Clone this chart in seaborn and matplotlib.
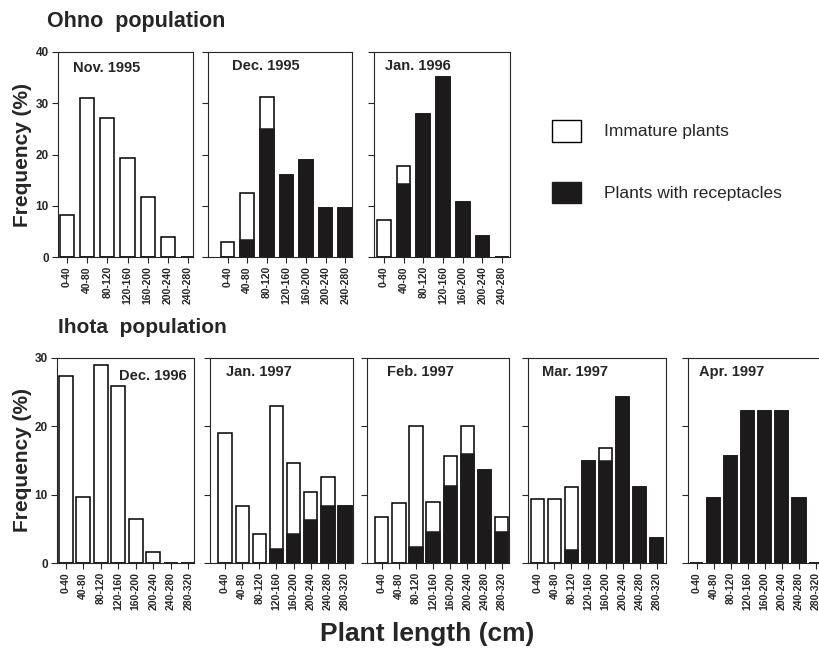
import matplotlib
matplotlib.use("Agg")
import matplotlib.pyplot as plt
from matplotlib.patches import Patch
import seaborn as sns


# length classes (cm)
ohno_bins = ["0-40", "40-80", "80-120", "120-160", "160-200", "200-240", "240-280"]
ihota_bins = ["0-40", "40-80", "80-120", "120-160", "160-200", "200-240", "240-280", "280-320"]

ohno_months = ["Nov. 1995", "Dec. 1995", "Jan. 1996"]
ihota_months = ["Dec. 1996", "Jan. 1997", "Feb. 1997", "Mar. 1997", "Apr. 1997"]

# frequency (%) of immature plants / plants with receptacles
ohno_immature = [
    [8.1, 31.0, 27.2, 19.4, 11.8, 4.0, 0],
    [3.0, 9.0, 6.2, 0, 0, 0, 0],
    [7.2, 3.4, 0, 0, 0, 0, 0],
]
ohno_receptacles = [
    [0, 0, 0, 0, 0, 0, 0],
    [0, 3.4, 25.0, 16.0, 19.0, 9.5, 9.5],
    [0, 14.3, 28.0, 35.2, 10.8, 4.1, 0],
]
ihota_immature = [
    [27.4, 9.7, 29.0, 25.9, 6.5, 1.6, 0, 0],
    [19.0, 8.3, 4.2, 20.9, 10.3, 4.1, 4.3, 0],
    [6.7, 8.8, 17.7, 4.4, 4.4, 4.1, 0, 2.2],
    [9.3, 9.3, 9.2, 0, 1.9, 0, 0, 0],
    [0, 0, 0, 0, 0, 0, 0, 0],
]
ihota_receptacles = [
    [0, 0, 0, 0, 0, 0, 0, 0],
    [0, 0, 0, 2.1, 4.3, 6.3, 8.3, 8.3],
    [0, 0, 2.3, 4.5, 11.2, 15.9, 13.6, 4.5],
    [0, 0, 1.9, 14.9, 14.9, 24.3, 11.1, 3.6],
    [0, 9.5, 15.7, 22.2, 22.2, 22.2, 9.5, 0],
]

sns.set_style("ticks")
plt.rcParams["font.family"] = ["Liberation Sans", "DejaVu Sans"]
plt.rcParams["axes.linewidth"] = 0.8

W, H = 820, 651
fig = plt.figure(figsize=(8.2, 6.51), dpi=100)


def box(l, t, r, b):
    return [l / W, 1 - b / H, (r - l) / W, (b - t) / H]


# panel frames in pixels, x limits, title placement
ohno_layout = [
    (box(58, 52, 193, 257), (-0.45, 6.25), (0.11, 0.92)),
    (box(208, 52, 352, 257), (-1.0, 6.35), (0.17, 0.93)),
    (box(374, 52, 510, 257), (-0.5, 6.4), (0.08, 0.93)),
]
ihota_layout = [
    (box(57, 358, 194, 563), (-0.5, 7.33), (0.45, 0.91)),
    (box(210, 358, 353, 563), (-0.88, 7.47), (0.11, 0.93)),
    (box(367, 358, 509, 563), (-0.86, 7.43), (0.14, 0.93)),
    (box(528, 358, 666, 563), (-0.55, 7.55), (0.10, 0.93)),
    (box(688, 358, 825, 563), (-0.5, 7.53), (0.08, 0.93)),
]


def panel(rect, xlim, title_pos, bins, immature, receptacles, month, ymax, first, width):
    ax = fig.add_axes(rect)
    total = [a + b for a, b in zip(immature, receptacles)]
    sns.barplot(x=bins, y=total, color="white", edgecolor="black", linewidth=1.1,
                width=width, saturation=1, errorbar=None, ax=ax)
    sns.barplot(x=bins, y=receptacles, color="#1c1a1b", edgecolor="#1c1a1b", linewidth=1.1,
                width=width, saturation=1, errorbar=None, ax=ax)
    ax.set_xlim(*xlim)
    ax.set_ylim(0, ymax)
    ax.set_yticks(range(0, ymax + 1, 10))
    ax.set_xlabel("")
    ax.set_ylabel("")
    ax.tick_params(axis="both", direction="out", length=4.5, width=0.8, pad=2)
    ax.tick_params(axis="x", labelsize=7.5, labelrotation=90)
    for t in ax.get_xticklabels():
        t.set_fontweight("bold")
    if first:
        ax.tick_params(axis="y", labelsize=8.5)
        for t in ax.get_yticklabels():
            t.set_fontweight("bold")
    else:
        ax.set_yticklabels([])
    for s in ax.spines.values():
        s.set_visible(True)
        s.set_linewidth(0.8)
    tx, ty = title_pos
    ax.text(tx, ty, month, transform=ax.transAxes, ha="left", va="center",
            fontsize=10.5, fontweight="bold")
    return ax


for i, (rect, xlim, tp) in enumerate(ohno_layout):
    panel(rect, xlim, tp, ohno_bins, ohno_immature[i], ohno_receptacles[i],
          ohno_months[i], 40, i == 0, 0.7)

for i, (rect, xlim, tp) in enumerate(ihota_layout):
    panel(rect, xlim, tp, ihota_bins, ihota_immature[i], ihota_receptacles[i],
          ihota_months[i], 30, i == 0, 0.78)

fig.text(47 / W, 1 - 21 / H, "Ohno  population", fontsize=15.5, fontweight="bold",
         ha="left", va="center")
fig.text(58 / W, 1 - 327 / H, "Ihota  population", fontsize=15, fontweight="bold",
         ha="left", va="center")
fig.text(23 / W, 1 - 155 / H, "Frequency (%)", rotation=90, fontsize=15, fontweight="bold",
         ha="center", va="center")
fig.text(23 / W, 1 - 460 / H, "Frequency (%)", rotation=90, fontsize=15, fontweight="bold",
         ha="center", va="center")
fig.text(427 / W, 1 - 634 / H, "Plant length (cm)", fontsize=19, fontweight="bold",
         ha="center", va="center")

handles = [Patch(facecolor="white", edgecolor="black", linewidth=1.0),
           Patch(facecolor="#1c1a1b", edgecolor="#1c1a1b")]
fig.legend(handles, ["Immature plants", "Plants with receptacles"],
           loc="upper left", bbox_to_anchor=(538 / W, 1 - 106 / H), frameon=False,
           fontsize=12.5, handlelength=1.7, handleheight=1.55, labelspacing=2.3,
           handletextpad=1.3, borderpad=0.3)

fig.savefig("out.png", dpi=100)
